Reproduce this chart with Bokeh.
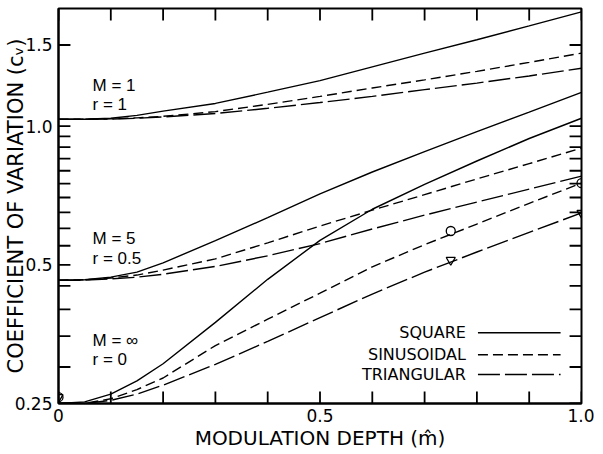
from bokeh.plotting import figure
from bokeh.models import Range1d, FixedTicker, Label, Arrow
from bokeh.embed import file_html
from bokeh.resources import INLINE

# ---------------- data ----------------
x = [0.0, 0.05, 0.1, 0.15, 0.2, 0.3, 0.4, 0.5, 0.6, 0.7, 0.8, 0.9, 1.0]

# M = 1, r = 1
sq_m1  = [1.035, 1.035, 1.040, 1.055, 1.078, 1.120, 1.185, 1.255, 1.345, 1.440, 1.540, 1.650, 1.770]
sin_m1 = [1.035, 1.035, 1.037, 1.042, 1.050, 1.075, 1.115, 1.160, 1.210, 1.260, 1.315, 1.375, 1.440]
tri_m1 = [1.035, 1.035, 1.036, 1.040, 1.047, 1.065, 1.093, 1.125, 1.160, 1.200, 1.240, 1.285, 1.335]

# M = 5, r = 0.5
sq_m5  = [0.463, 0.464, 0.470, 0.482, 0.505, 0.564, 0.633, 0.713, 0.795, 0.880, 0.973, 1.072, 1.184]
sin_m5 = [0.463, 0.464, 0.468, 0.475, 0.487, 0.515, 0.558, 0.607, 0.657, 0.710, 0.768, 0.829, 0.896]
tri_m5 = [0.463, 0.463, 0.466, 0.470, 0.477, 0.496, 0.523, 0.556, 0.598, 0.641, 0.684, 0.730, 0.779]

# M = inf, r = 0
sq_mi  = [0.250, 0.252, 0.262, 0.280, 0.305, 0.375, 0.465, 0.565, 0.660, 0.747, 0.840, 0.940, 1.040]
sin_mi = [0.250, 0.250, 0.256, 0.268, 0.284, 0.334, 0.381, 0.434, 0.495, 0.553, 0.613, 0.680, 0.752]
tri_mi = [0.250, 0.250, 0.254, 0.262, 0.274, 0.304, 0.341, 0.384, 0.432, 0.482, 0.533, 0.588, 0.648]

# measured points
pt_x = [0.0, 0.75, 1.0]
circle_y = [0.258, 0.592, 0.752]
triangle_y = [0.258, 0.512, 0.648]

y_ticks = [0.25, 0.5, 1.0, 1.5]
y_tick_labels = ["0.25", "0.5", "1.0", "1.5"]
y_minor = [0.3, 0.35, 0.4, 0.45, 0.55, 0.6, 0.65, 0.7, 0.75, 0.8, 0.85, 0.9, 0.95]
x_ticks = [0.0, 0.5, 1.0]
x_tick_labels = ["0", "0.5", "1.0"]
x_minor = [0.1, 0.2, 0.3, 0.4, 0.6, 0.7, 0.8, 0.9]

wave_names = ["SQUARE", "SINUSOIDAL", "TRIANGULAR"]

# ---------------- styles / layout ----------------
FONT = "DejaVu Sans"
ANN_FONT = "Liberation Sans"
dashes = {"SQUARE": "solid", "SINUSOIDAL": "10 5", "TRIANGULAR": "22 5"}
LW = 1.4
X0, X1 = 0.0, 1.0
Y0, Y1 = 0.25, 1.8
W, H = 594, 452
BL, BR, BT, BB = 55, 13, 8, 46
FRAME_W = W - BL - BR
FRAME_H = H - BT - BB
TICK = 12  # tick length, px

p = figure(width=W, height=H, output_backend="svg", toolbar_location=None,
           y_axis_type="log", x_range=Range1d(X0, X1), y_range=Range1d(Y0, Y1),
           min_border_left=BL, min_border_right=BR, min_border_top=BT, min_border_bottom=BB)
p.xgrid.visible = False
p.ygrid.visible = False
p.outline_line_color = "black"
p.outline_line_width = 2
p.background_fill_color = "white"
p.border_fill_color = "white"

series = [
    (sq_m1, "SQUARE"), (sin_m1, "SINUSOIDAL"), (tri_m1, "TRIANGULAR"),
    (sq_m5, "SQUARE"), (sin_m5, "SINUSOIDAL"), (tri_m5, "TRIANGULAR"),
    (sq_mi, "SQUARE"), (sin_mi, "SINUSOIDAL"), (tri_mi, "TRIANGULAR"),
]
for ys, kind in series:
    p.line(x, ys, line_color="black", line_width=LW, line_dash=dashes[kind])

p.scatter(pt_x, circle_y, marker="circle", size=9, fill_color=None,
          line_color="black", line_width=1.3)
p.scatter(pt_x, triangle_y, marker="inverted_triangle", size=9, fill_color=None,
          line_color="black", line_width=1.3)

# inward-pointing ticks on all four sides, placed at the tick values
all_y = y_ticks + y_minor
all_x = x_ticks + x_minor
dx = TICK / FRAME_W * (X1 - X0)
fy = (Y1 / Y0) ** (TICK / FRAME_H)
seg = dict(line_color="black", line_width=1.8)
p.segment(x0=[X0] * len(all_y), y0=all_y, x1=[X0 + dx] * len(all_y), y1=all_y, **seg)
p.segment(x0=[X1] * len(all_y), y0=all_y, x1=[X1 - dx] * len(all_y), y1=all_y, **seg)
p.segment(x0=all_x, y0=[Y0] * len(all_x), x1=all_x, y1=[Y0 * fy] * len(all_x), **seg)
p.segment(x0=all_x, y0=[Y1] * len(all_x), x1=all_x, y1=[Y1 / fy] * len(all_x), **seg)

def style_axis(ax):
    ax.axis_line_color = "black"
    ax.axis_line_width = 2
    ax.major_tick_in = 0
    ax.major_tick_out = 0
    ax.minor_tick_in = 0
    ax.minor_tick_out = 0
    ax.minor_tick_line_color = None
    ax.major_label_text_font = FONT
    ax.major_label_text_color = "black"
    ax.axis_label_text_font = FONT
    ax.axis_label_text_font_style = "normal"
    ax.axis_label_text_color = "black"

# bottom axis
xa = p.xaxis[0]
xa.ticker = FixedTicker(ticks=x_ticks, minor_ticks=[])
xa.major_label_overrides = {t: l for t, l in zip(x_ticks, x_tick_labels)}
style_axis(xa)
xa.major_label_text_font_size = "17px"
xa.major_label_standoff = 5
xa.axis_label = "MODULATION DEPTH (m\u0302)"
xa.axis_label_text_font_size = "20px"
xa.axis_label_standoff = 1

# left axis
ya = p.yaxis[0]
ya.ticker = FixedTicker(ticks=y_ticks, minor_ticks=[])
ya.major_label_overrides = {t: l for t, l in zip(y_ticks, y_tick_labels)}
style_axis(ya)
ya.major_label_text_font_size = "17px"
ya.major_label_standoff = 6
ya.axis_label = "COEFFICIENT OF VARIATION (c\u1d65)"
ya.axis_label_text_font_size = "21px"
ya.axis_label_standoff = -16

# group annotations
groups = [
    ("M = 1", 1.226, "r  = 1", 1.115),
    ("M = 5", 0.569, "r  = 0.5", 0.515),
    ("M = \u221e", 0.343, "r  = 0", 0.311),
]
for m_txt, m_y, r_txt, r_y in groups:
    for txt, yy in ((m_txt, m_y), (r_txt, r_y)):
        p.add_layout(Label(x=0.065, y=yy, text=txt, text_font=ANN_FONT,
                           text_font_size="17px", text_baseline="middle",
                           text_color="black"))

# key (labels left, line samples right)
key_y = [0.356, 0.319, 0.289]
for name, yy in zip(wave_names, key_y):
    p.add_layout(Label(x=0.779, y=yy, text=name, text_font=FONT,
                       text_font_size="16px", text_align="right",
                       text_baseline="middle", text_color="black"))
    p.add_layout(Arrow(x_start=0.802, y_start=yy, x_end=0.96, y_end=yy, end=None,
                       line_color="black", line_width=LW, line_dash=dashes[name]))

open("out.html", "w").write(file_html(p, INLINE))
